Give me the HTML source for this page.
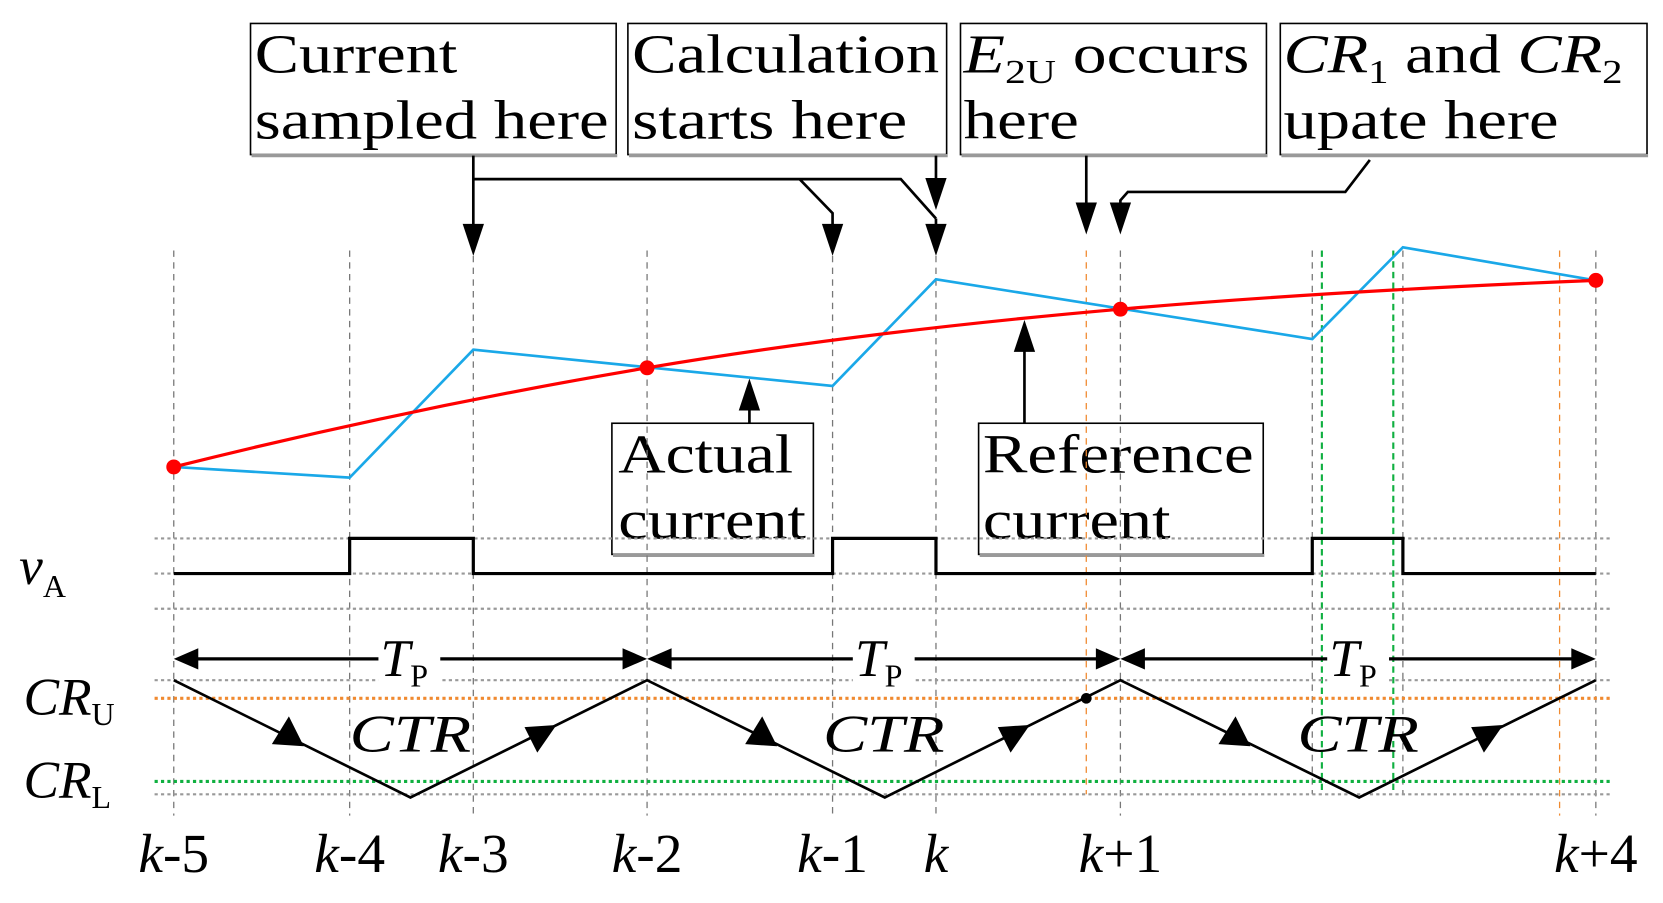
<!DOCTYPE html>
<html><head><meta charset="utf-8"><style>html,body{margin:0;padding:0;background:#fff}svg{display:block}</style></head>
<body>
<svg width="1663" height="903" viewBox="0 0 1560 847" preserveAspectRatio="none" xmlns="http://www.w3.org/2000/svg" font-family="Liberation Serif, serif">
<g fill="#fff" stroke="#000" stroke-width="1.5">
<rect x="235" y="22" width="343" height="123"/>
<rect x="589" y="22" width="299" height="123"/>
<rect x="901" y="22" width="287" height="123"/>
<rect x="1201" y="22" width="344" height="123"/>
<rect x="574" y="397" width="189" height="123"/>
<rect x="918" y="397" width="267" height="123"/>
</g>
<g stroke="#999" stroke-width="3">
<line x1="236" y1="146" x2="579" y2="146"/><line x1="590" y1="146" x2="889" y2="146"/><line x1="902" y1="146" x2="1189" y2="146"/><line x1="1202" y1="146" x2="1546" y2="146"/>
<line x1="575" y1="521" x2="764" y2="521"/><line x1="919" y1="521" x2="1186" y2="521"/>
</g>
<g font-size="52" fill="#000">
<text x="239" y="68" textLength="190" lengthAdjust="spacingAndGlyphs">Current</text>
<text x="239" y="130" textLength="332" lengthAdjust="spacingAndGlyphs">sampled here</text>
<text x="593" y="68" textLength="288" lengthAdjust="spacingAndGlyphs">Calculation</text>
<text x="593" y="130" textLength="258" lengthAdjust="spacingAndGlyphs">starts here</text>
<text x="904" y="68" textLength="268" lengthAdjust="spacingAndGlyphs"><tspan font-style="italic">E</tspan><tspan font-size="32" dy="10">2U</tspan><tspan dy="-10"> occurs</tspan></text>
<text x="904" y="130" textLength="108" lengthAdjust="spacingAndGlyphs">here</text>
<text x="1204" y="68" textLength="318" lengthAdjust="spacingAndGlyphs"><tspan font-style="italic">CR</tspan><tspan font-size="32" dy="10">1</tspan><tspan dy="-10"> and </tspan><tspan font-style="italic">CR</tspan><tspan font-size="32" dy="10">2</tspan></text>
<text x="1204" y="130" textLength="258" lengthAdjust="spacingAndGlyphs">upate here</text>
<text x="580" y="443" textLength="164" lengthAdjust="spacingAndGlyphs">Actual</text>
<text x="580" y="505" textLength="176" lengthAdjust="spacingAndGlyphs">current</text>
<text x="922" y="443" textLength="254" lengthAdjust="spacingAndGlyphs">Reference</text>
<text x="922" y="505" textLength="176" lengthAdjust="spacingAndGlyphs">current</text>
</g>
<g stroke="#777" stroke-width="1.2" stroke-dasharray="6,5">
<line x1="163" y1="235" x2="163" y2="765"/><line x1="328" y1="235" x2="328" y2="765"/><line x1="444" y1="240" x2="444" y2="765"/><line x1="607" y1="235" x2="607" y2="765"/><line x1="781" y1="240" x2="781" y2="765"/><line x1="878" y1="240" x2="878" y2="765"/><line x1="1051" y1="235" x2="1051" y2="765"/><line x1="1497" y1="235" x2="1497" y2="765"/><line x1="1231" y1="235" x2="1231" y2="745"/><line x1="1316" y1="235" x2="1316" y2="745"/>
</g>
<g stroke="#f08a30" stroke-width="1.2" stroke-dasharray="6,5"><line x1="1019" y1="235" x2="1019" y2="745"/><line x1="1463" y1="235" x2="1463" y2="765"/></g>
<g stroke="#10b040" stroke-width="2" stroke-dasharray="6,4"><line x1="1240" y1="235" x2="1240" y2="745"/><line x1="1307" y1="235" x2="1307" y2="745"/></g>
<g stroke="#999" stroke-width="2" stroke-dasharray="3,3"><line x1="145" y1="505" x2="1512" y2="505"/><line x1="145" y1="538" x2="1512" y2="538"/><line x1="145" y1="571" x2="1512" y2="571"/><line x1="145" y1="638" x2="1512" y2="638"/><line x1="145" y1="745" x2="1512" y2="745"/></g>
<line x1="145" y1="655" x2="1512" y2="655" stroke="#f08a30" stroke-width="3" stroke-dasharray="3,3"/>
<line x1="145" y1="733" x2="1512" y2="733" stroke="#10b040" stroke-width="3" stroke-dasharray="3,3"/>
<g stroke="#000" stroke-width="2.5" fill="none">
<line x1="444" y1="146" x2="444" y2="215"/>
<polyline points="444,168 845,168 878,205"/>
<polyline points="750,168 781,200 781,215"/>
<line x1="878" y1="205" x2="878" y2="215"/>
<line x1="878" y1="146" x2="878" y2="172"/>
<line x1="1019" y1="146" x2="1019" y2="195"/>
<polyline points="1285,150 1262,180 1058,180 1051,188 1051,195"/>
<line x1="703" y1="397" x2="703" y2="380"/>
<line x1="961" y1="397" x2="961" y2="325"/>
</g>
<g fill="#000">
<path d="M434,210 L454,210 L444,240 z"/>
<path d="M771,210 L791,210 L781,240 z"/>
<path d="M868,210 L888,210 L878,240 z"/>
<path d="M868,167 L888,167 L878,197 z"/>
<path d="M1009,190 L1029,190 L1019,220 z"/>
<path d="M1041,190 L1061,190 L1051,220 z"/>
<path d="M693,385 L713,385 L703,355 z"/>
<path d="M951,330 L971,330 L961,300 z"/>
</g>
<polyline points="163,438 328,448 444,328 781,362 878,262 1231,318 1316,232 1497,263" fill="none" stroke="#1aa8e8" stroke-width="2.5"/>
<path d="M163,438 C311,401 459,370 607,345 C755,320 903,303 1051,290 C1200,277 1348,269 1497,263" fill="none" stroke="#f00" stroke-width="3"/>
<g fill="#f00"><circle cx="163" cy="438" r="7"/><circle cx="607" cy="345" r="7"/><circle cx="1051" cy="290" r="7"/><circle cx="1497" cy="263" r="7"/></g>
<polyline points="163,538 328,538 328,505 444,505 444,538 781,538 781,505 878,505 878,538 1231,538 1231,505 1316,505 1316,538 1497,538" fill="none" stroke="#000" stroke-width="3"/>
<g stroke="#000" stroke-width="3">
<line x1="180" y1="618" x2="590" y2="618"/>
<line x1="624" y1="618" x2="1034" y2="618"/>
<line x1="1068" y1="618" x2="1480" y2="618"/>
</g>
<g fill="#000">
<path d="M163,618 L186,608 L186,628 z"/><path d="M607,618 L584,608 L584,628 z"/>
<path d="M607,618 L630,608 L630,628 z"/><path d="M1051,618 L1028,608 L1028,628 z"/>
<path d="M1051,618 L1074,608 L1074,628 z"/><path d="M1497,618 L1474,608 L1474,628 z"/>
</g>
<g font-size="50" font-style="italic" fill="#000">
<rect x="355" y="595" width="58" height="45" fill="#fff"/><rect x="800" y="595" width="58" height="45" fill="#fff"/><rect x="1245" y="595" width="58" height="45" fill="#fff"/>
<text x="357" y="634">T<tspan font-style="normal" font-size="30" dy="10">P</tspan></text>
<text x="802" y="634">T<tspan font-style="normal" font-size="30" dy="10">P</tspan></text>
<text x="1247" y="634">T<tspan font-style="normal" font-size="30" dy="10">P</tspan></text>
<text x="328" y="705" textLength="114" lengthAdjust="spacingAndGlyphs">CTR</text><text x="772" y="705" textLength="114" lengthAdjust="spacingAndGlyphs">CTR</text><text x="1217" y="705" textLength="114" lengthAdjust="spacingAndGlyphs">CTR</text>
<text x="18" y="548">v<tspan font-style="normal" font-size="30" dy="12">A</tspan></text>
<text x="22" y="670">CR<tspan font-style="normal" font-size="30" dy="10">U</tspan></text>
<text x="22" y="748">CR<tspan font-style="normal" font-size="30" dy="10">L</tspan></text>
</g>
<polyline points="163,638 385,748 607,638 830,748 1051,638 1275,748 1497,638" fill="none" stroke="#000" stroke-width="2.5"/>
<g fill="#000">
<path d="M285,700 l-30,-2 l16,-26 z"/><path d="M729,700 l-30,-2 l16,-26 z"/><path d="M1173,700 l-30,-2 l16,-26 z"/>
<path d="M522,680 l-30,2 l12,24 z"/><path d="M966,680 l-30,2 l12,24 z"/><path d="M1410,680 l-30,2 l12,24 z"/>
<circle cx="1019" cy="655" r="5"/>
</g>
<g font-size="52" fill="#000" text-anchor="middle">
<text x="163" y="818"><tspan font-style="italic">k</tspan>-5</text>
<text x="328" y="818"><tspan font-style="italic">k</tspan>-4</text>
<text x="444" y="818"><tspan font-style="italic">k</tspan>-3</text>
<text x="607" y="818"><tspan font-style="italic">k</tspan>-2</text>
<text x="781" y="818"><tspan font-style="italic">k</tspan>-1</text>
<text x="878" y="818"><tspan font-style="italic">k</tspan></text>
<text x="1051" y="818"><tspan font-style="italic">k</tspan>+1</text>
<text x="1497" y="818"><tspan font-style="italic">k</tspan>+4</text>
</g>
</svg>
</body></html>
